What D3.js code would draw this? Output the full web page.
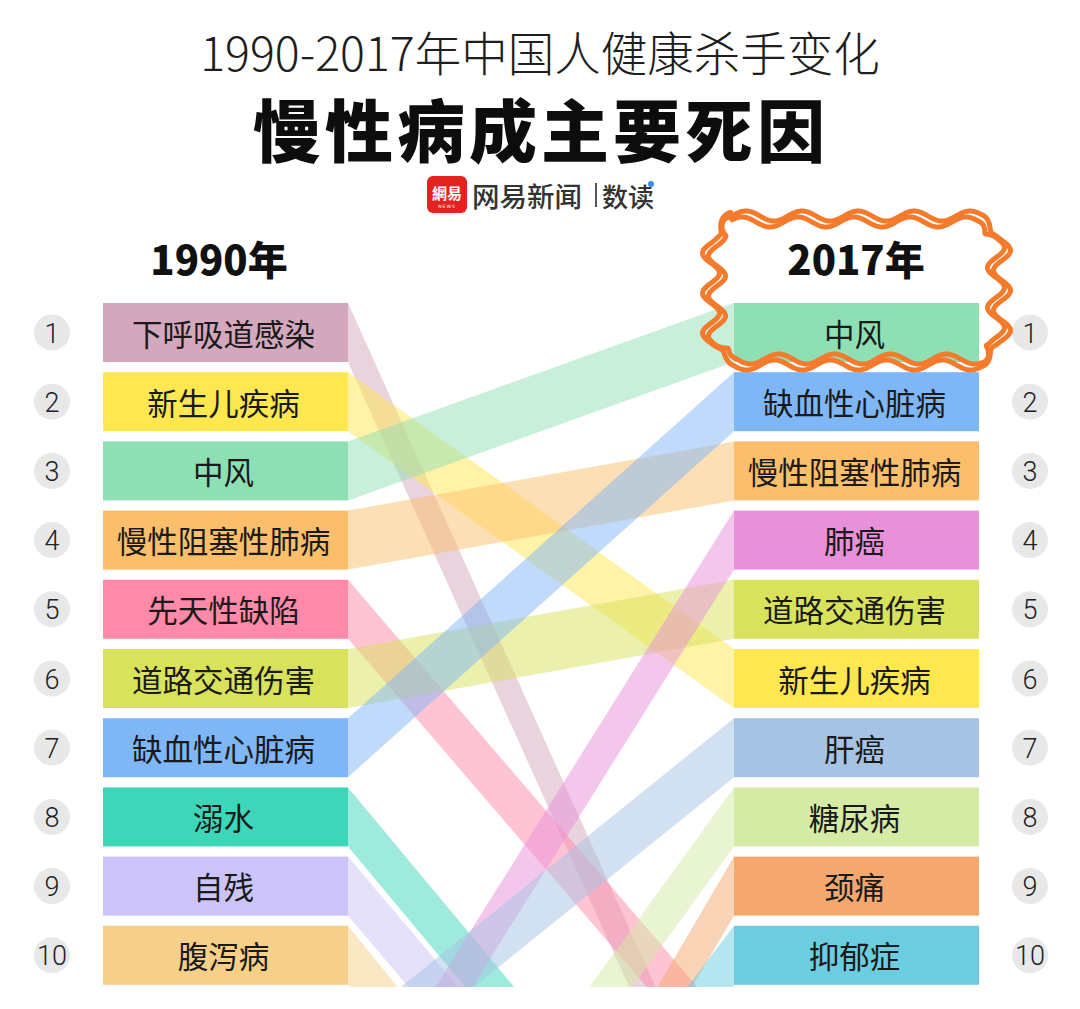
<!DOCTYPE html>
<html><head><meta charset="utf-8">
<script src="https://cdn.jsdelivr.net/npm/d3@7/dist/d3.min.js"></script>
<style>
html,body{margin:0;padding:0;background:#fff;}
svg{display:block;}
</style></head>
<body>
<svg id="chart" width="1080" height="1009"></svg>
<script>
// ---- data ----
const causes1990 = ['下呼吸道感染','新生儿疾病','中风','慢性阻塞性肺病','先天性缺陷','道路交通伤害','缺血性心脏病','溺水','自残','腹泻病'];
const causes2017 = ['中风','缺血性心脏病','慢性阻塞性肺病','肺癌','道路交通伤害','新生儿疾病','肝癌','糖尿病','颈痛','抑郁症'];
// estimated off-chart ranks (beyond top 10) read from band slopes
const offRank2017 = {'下呼吸道感染':13.4,'先天性缺陷':11.5,'溺水':14.7,'自残':15.6,'腹泻病':16.9};
const offRank1990 = {'肺癌':12.9,'肝癌':11.5,'糖尿病':15.7,'颈痛':18.5,'抑郁症':17.3};
const causeColors = {
  '下呼吸道感染':'#d3a7bc','新生儿疾病':'#ffe84f','中风':'#8fdfb5','慢性阻塞性肺病':'#fbbf6c',
  '先天性缺陷':'#ff89a9','道路交通伤害':'#d8e25b','缺血性心脏病':'#7fb6f6','溺水':'#3ed6b9',
  '自残':'#ccc4f8','腹泻病':'#f6d088','肺癌':'#e890d9','肝癌':'#a6c3e3','糖尿病':'#d4eaa5',
  '颈痛':'#f4a86d','抑郁症':'#6ccde0'
};
const ranks = d3.range(1, 11);
const years = ['1990年','2017年'];
const titleLine1 = '1990-2017年中国人健康杀手变化';
const titleLine2 = '慢性病成主要死因';
const sourceText = '网易新闻';
const sourceText2 = '数读';

// ---- layout ----
const svg = d3.select('#chart');
const W = 1080;
const boxH = 59;
const yRank = d3.scaleLinear().domain([1, 10]).range([303, 925.8]);
const xCol = d3.scaleOrdinal().domain(['left','right']).range([103, 734]);
const boxW = 245;
const leftEdge = xCol('left') + boxW, rightEdge = xCol('right');
const clipBottom = 987;
const fontCJK = '"Noto Sans CJK SC","Noto Sans",sans-serif';

svg.append('defs').append('clipPath').attr('id','clipB')
  .append('rect').attr('x',0).attr('y',0).attr('width',W).attr('height',clipBottom);

// ---- bands ----
const allCauses = Array.from(new Set([...causes1990, ...causes2017]));
const bands = allCauses.map(c => {
  const r1 = causes1990.includes(c) ? causes1990.indexOf(c) + 1 : offRank1990[c];
  const r2 = causes2017.includes(c) ? causes2017.indexOf(c) + 1 : offRank2017[c];
  return {cause: c, r1, r2};
});
const gBands = svg.append('g').attr('clip-path','url(#clipB)');
gBands.selectAll('path').data(bands).join('path')
  .attr('d', d => {
    const y1 = yRank(d.r1), y2 = yRank(d.r2);
    return `M${leftEdge},${y1}L${rightEdge},${y2}L${rightEdge},${y2+boxH}L${leftEdge},${y1+boxH}Z`;
  })
  .attr('fill', d => causeColors[d.cause])
  .attr('fill-opacity', 0.5);

// ---- boxes ----
function drawColumn(list, side) {
  const g = svg.append('g');
  const x0 = xCol(side);
  g.selectAll('rect').data(list).join('rect')
    .attr('x', x0).attr('y', (d,i) => yRank(i+1))
    .attr('width', boxW).attr('height', boxH)
    .attr('fill', d => causeColors[d]);
  g.selectAll('text').data(list).join('text')
    .attr('x', x0 + boxW/2 - 2).attr('y', (d,i) => yRank(i+1) + boxH/2)
    .attr('text-anchor','middle').attr('dominant-baseline','central')
    .attr('font-family', fontCJK).attr('font-size', 30.5).attr('fill','#1a1a1a')
    .text(d => d);
}
drawColumn(causes1990, 'left');
drawColumn(causes2017, 'right');

// ---- rank circles ----
[52, 1030].forEach(cx => {
  const g = svg.append('g');
  g.selectAll('circle').data(ranks).join('circle')
    .attr('cx', cx).attr('cy', d => yRank(d) + boxH/2).attr('r', 18).attr('fill', '#e8e8e8');
  g.selectAll('text').data(ranks).join('text')
    .attr('x', cx).attr('y', d => yRank(d) + boxH/2 + 1)
    .attr('text-anchor','middle').attr('dominant-baseline','central')
    .attr('font-family','Roboto, "Noto Sans", sans-serif').attr('font-weight',300)
    .attr('font-size', 27).attr('fill','#222').text(d => d);
});

// ---- column headers ----
svg.selectAll('text.yr').data(years).join('text').attr('class','yr')
  .attr('x', (d,i) => i === 0 ? 219 : 856).attr('y', 258)
  .attr('text-anchor','middle').attr('dominant-baseline','central')
  .attr('font-family', fontCJK).attr('font-weight', 900).attr('font-size', 40).attr('fill','#111')
  .text(d => d);

// ---- wavy highlight frame ----
(function(){
  const fx = 714, fy = 219, fw = 285, fh = 143, rr = 18;
  const tmp = svg.append('path').attr('fill','none').attr('stroke','none')
    .attr('d', `M${fx+rr},${fy}H${fx+fw-rr}A${rr},${rr} 0 0 1 ${fx+fw},${fy+rr}V${fy+fh-rr}A${rr},${rr} 0 0 1 ${fx+fw-rr},${fy+fh}H${fx+rr}A${rr},${rr} 0 0 1 ${fx},${fy+fh-rr}V${fy+rr}A${rr},${rr} 0 0 1 ${fx+rr},${fy}Z`);
  const node = tmp.node();
  const L = node.getTotalLength();
  function wave(phase0, shift) {
    const n = 900;
    const pts = [];
    let phase = phase0;
    for (let k = 0; k < n; k++) {
      const s = k / n * L;
      const p = node.getPointAtLength(s);
      const a = node.getPointAtLength((s - 1 + L) % L), b = node.getPointAtLength((s + 1) % L);
      let tx = b.x - a.x, ty = b.y - a.y; const len = Math.hypot(tx, ty) || 1;
      tx /= len; ty /= len;
      const nx = ty, ny = -tx;
      const amp = 5 * Math.abs(tx) + 8.5 * Math.abs(ty);
      const lam = 56 * Math.abs(tx) + 40 * Math.abs(ty);
      const off = amp * Math.sin(phase) + shift;
      pts.push([p.x + nx * off, p.y + ny * off]);
      phase += 2 * Math.PI * (L / n) / lam;
    }
    return d3.line().curve(d3.curveLinearClosed)(pts);
  }
  const gW = svg.append('g').attr('fill','none').attr('stroke','#f47a2c').attr('stroke-width',5)
    .attr('stroke-linejoin','round');
  gW.append('path').attr('d', wave(0, 3));
  gW.append('path').attr('d', wave(0.45, -3));
  tmp.remove();
})();

// ---- titles ----
svg.append('text').attr('x', 540).attr('y', 50).attr('text-anchor','middle').attr('dominant-baseline','central')
  .attr('font-family', fontCJK).attr('font-weight', 300).attr('font-size', 46.5).attr('fill','#1e1e1e')
  .text(titleLine1);
svg.append('text').attr('x', 541).attr('y', 127).attr('text-anchor','middle').attr('dominant-baseline','central')
  .attr('font-family', fontCJK).attr('font-weight', 900).attr('font-size', 68).attr('letter-spacing', 4).attr('fill','#0d0d0d')
  .text(titleLine2);

// ---- source logo ----
const gLogo = svg.append('g');
gLogo.append('rect').attr('x', 427).attr('y', 176).attr('width', 40).attr('height', 37).attr('rx', 6).attr('fill','#e2231f');
gLogo.append('text').attr('x', 447).attr('y', 192).attr('text-anchor','middle').attr('dominant-baseline','central')
  .attr('font-family', fontCJK).attr('font-weight', 700).attr('font-size', 15).attr('fill','#fff').text('網易');
gLogo.append('text').attr('x', 447).attr('y', 206).attr('text-anchor','middle').attr('dominant-baseline','central')
  .attr('font-family','"DejaVu Sans",sans-serif').attr('font-size', 4.5).attr('letter-spacing',1).attr('fill','#fff').text('NEWS');
gLogo.append('text').attr('x', 472).attr('y', 195).attr('dominant-baseline','central')
  .attr('font-family', fontCJK).attr('font-weight', 500).attr('font-size', 27.5).attr('fill','#333').text(sourceText);
gLogo.append('rect').attr('x', 595).attr('y', 183).attr('width', 2).attr('height', 24).attr('fill','#555');
gLogo.append('text').attr('x', 602).attr('y', 195).attr('dominant-baseline','central')
  .attr('font-family', fontCJK).attr('font-weight', 500).attr('font-size', 26).attr('fill','#333').text(sourceText2);
gLogo.append('circle').attr('cx', 651).attr('cy', 184).attr('r', 3).attr('fill','#3a8ee6');
</script>
</body></html>
